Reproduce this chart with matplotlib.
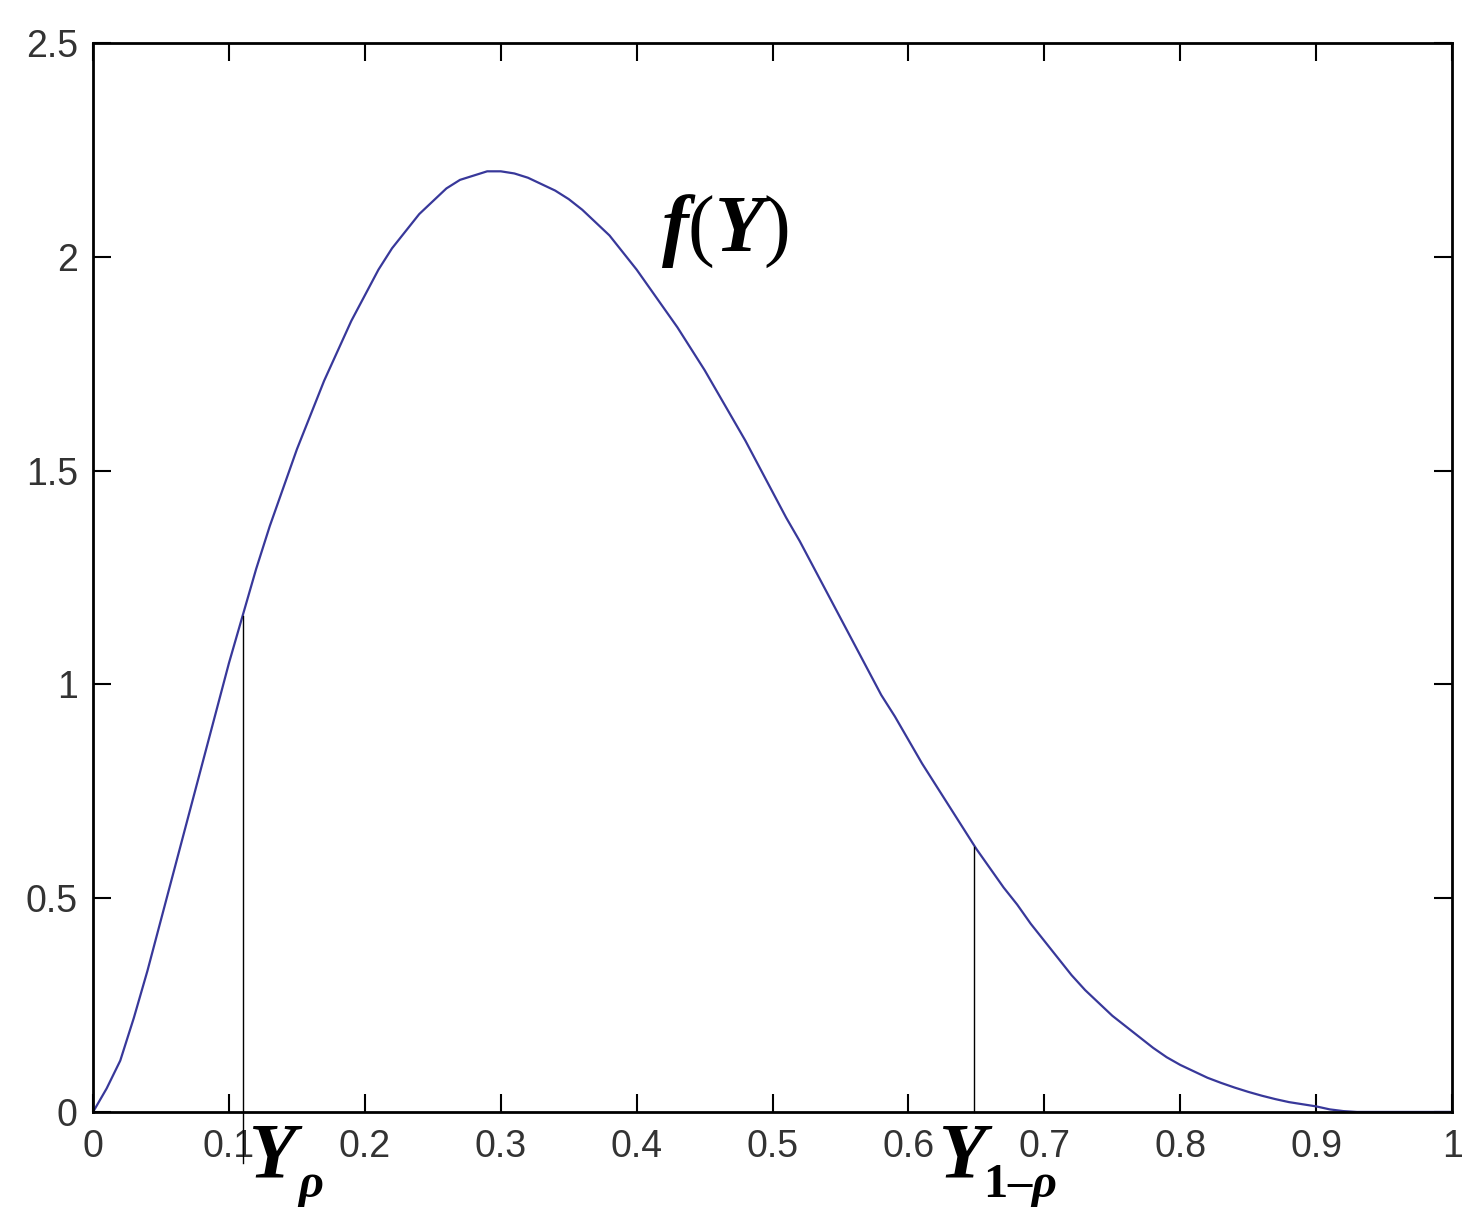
import matplotlib
matplotlib.use("Agg")
import matplotlib.pyplot as plt

# density curve
y_vals = [0.0, 0.01, 0.02, 0.03, 0.04, 0.05, 0.06, 0.07, 0.08, 0.09, 0.10,
          0.11, 0.12, 0.13, 0.14, 0.15, 0.16, 0.17, 0.18, 0.19, 0.20,
          0.21, 0.22, 0.23, 0.24, 0.25, 0.26, 0.27, 0.28, 0.29, 0.30,
          0.31, 0.32, 0.33, 0.34, 0.35, 0.36, 0.37, 0.38, 0.39, 0.40,
          0.41, 0.42, 0.43, 0.44, 0.45, 0.46, 0.47, 0.48, 0.49, 0.50,
          0.51, 0.52, 0.53, 0.54, 0.55, 0.56, 0.57, 0.58, 0.59, 0.60,
          0.61, 0.62, 0.63, 0.64, 0.65, 0.66, 0.67, 0.68, 0.69, 0.70,
          0.71, 0.72, 0.73, 0.74, 0.75, 0.76, 0.77, 0.78, 0.79, 0.80,
          0.81, 0.82, 0.83, 0.84, 0.85, 0.86, 0.87, 0.88, 0.89, 0.90,
          0.91, 0.92, 0.93, 1.0]
f_vals = [0.0, 0.055, 0.12, 0.22, 0.33, 0.45, 0.57, 0.69, 0.81, 0.93, 1.05,
          1.16, 1.27, 1.37, 1.46, 1.55, 1.63, 1.71, 1.78, 1.85, 1.91,
          1.97, 2.02, 2.06, 2.10, 2.13, 2.16, 2.18, 2.19, 2.20, 2.20,
          2.195, 2.185, 2.17, 2.155, 2.135, 2.11, 2.08, 2.05, 2.01, 1.97,
          1.925, 1.88, 1.835, 1.785, 1.735, 1.68, 1.625, 1.57, 1.51, 1.45,
          1.39, 1.335, 1.275, 1.215, 1.155, 1.095, 1.035, 0.975, 0.925, 0.87,
          0.815, 0.765, 0.715, 0.665, 0.615, 0.57, 0.525, 0.485, 0.44, 0.40,
          0.36, 0.32, 0.285, 0.255, 0.225, 0.20, 0.175, 0.15, 0.128, 0.11,
          0.095, 0.08, 0.068, 0.057, 0.047, 0.038, 0.03, 0.023, 0.018, 0.013,
          0.006, 0.002, 0.0, 0.0]

# quantile markers
q_x = [0.11, 0.648]
q_top = [1.16, 0.62]
q_bottom = [-0.12, 0.0]
q_main_x = [0.114, 0.622]
q_sub_x = [0.150, 0.655]
q_subs = [r'$\rho$', r'$\mathbf{1}$–$\rho$']

x_ticks = [0, 0.1, 0.2, 0.3, 0.4, 0.5, 0.6, 0.7, 0.8, 0.9, 1]
x_tick_labels = ['0', '0.1', '0.2', '0.3', '0.4', '0.5', '0.6', '0.7', '0.8', '0.9', '1']
y_ticks = [0, 0.5, 1, 1.5, 2, 2.5]
y_tick_labels = ['0', '0.5', '1', '1.5', '2', '2.5']

plt.rcParams['mathtext.fontset'] = 'custom'
plt.rcParams['mathtext.rm'] = 'Liberation Serif'
plt.rcParams['mathtext.it'] = 'Liberation Serif:italic:bold'
plt.rcParams['mathtext.bf'] = 'Liberation Serif:bold'

fig = plt.figure(figsize=(14.82, 12.23), dpi=100)
ax = fig.add_axes([0.0628, 0.0908, 0.917, 0.874])

ax.plot(y_vals, f_vals, color='#38389a', linewidth=1.6)

for xq, top, bot in zip(q_x, q_top, q_bottom):
    ax.plot([xq, xq], [bot, top], color='black', linewidth=1.0, clip_on=False)

for mx, sx, sub in zip(q_main_x, q_sub_x, q_subs):
    ax.text(mx, -0.152, r'$Y$', fontsize=56, ha='left', va='baseline')
    ax.text(sx, -0.20, sub, fontsize=35, ha='left', va='baseline',
            family='Liberation Serif', weight='bold')

ax.text(0.418, 2.014, r'$f(Y)$', fontsize=58, ha='left', va='baseline')

ax.set_xlim(0, 1)
ax.set_ylim(0, 2.5)
ax.set_xticks(x_ticks)
ax.set_xticklabels(x_tick_labels)
ax.set_yticks(y_ticks)
ax.set_yticklabels(y_tick_labels)
ax.tick_params(direction='in', length=13, width=1.5, top=True, right=True,
               labelsize=27, labelcolor='#333333')
ax.tick_params(axis='x', pad=12)
ax.tick_params(axis='y', pad=11)
for lab in ax.get_xticklabels() + ax.get_yticklabels():
    lab.set_family('Liberation Sans')
for sp in ax.spines.values():
    sp.set_linewidth(2.0)

fig.savefig('out.png', dpi=100)
